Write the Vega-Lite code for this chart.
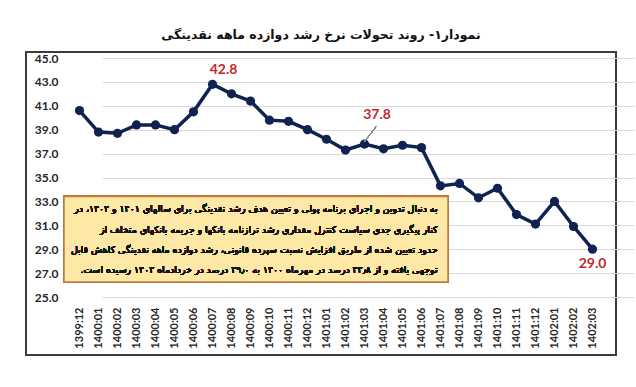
{
  "$schema": "https://vega.github.io/schema/vega-lite/v6.json",
  "autosize": "none",
  "width": 590,
  "height": 303,
  "padding": {"left": 26, "top": 52, "right": 20, "bottom": 32},
  "background": "white",
  "config": {
    "view": {"stroke": "#3c3c3c", "strokeWidth": 2},
    "axisX": {
      "labelAngle": -90,
      "domain": false,
      "ticks": false,
      "tickSize": 0,
      "labelPadding": 0,
      "offset": -48,
      "grid": false,
      "labelOverlap": false,
      "labelFont": "Lato",
      "labelFontSize": 11,
      "labelFontWeight": "bold",
      "labelColor": "#262626"
    },
    "axisY": {
      "domain": false,
      "ticks": false,
      "tickSize": 0,
      "labelPadding": 0,
      "offset": -32,
      "grid": true,
      "labelOverlap": false,
      "gridColor": "#d9d9d9",
      "gridWidth": 1,
      "labelFont": "Lato",
      "labelFontSize": 12,
      "labelFontWeight": "bold",
      "labelColor": "#262626"
    }
  },
  "title": {
    "text": "\u200fنمودار۱- روند تحولات نرخ رشد دوازده ماهه نقدینگی\u200f",
    "font": "DejaVu Sans",
    "fontSize": 12.5,
    "fontWeight": "bold",
    "color": "#111111",
    "anchor": "middle",
    "offset": 11
  },
  "data": {
    "values": [
      {"m": "1399:12", "v": 40.6},
      {"m": "1400:01", "v": 38.8},
      {"m": "1400:02", "v": 38.7},
      {"m": "1400:03", "v": 39.4},
      {"m": "1400:04", "v": 39.4},
      {"m": "1400:05", "v": 39.0},
      {"m": "1400:06", "v": 40.5},
      {"m": "1400:07", "v": 42.8},
      {"m": "1400:08", "v": 42.0},
      {"m": "1400:09", "v": 41.4},
      {"m": "1400:10", "v": 39.8},
      {"m": "1400:11", "v": 39.7},
      {"m": "1400:12", "v": 39.0},
      {"m": "1401:01", "v": 38.2},
      {"m": "1401:02", "v": 37.3},
      {"m": "1401:03", "v": 37.8},
      {"m": "1401:04", "v": 37.4},
      {"m": "1401:05", "v": 37.7},
      {"m": "1401:06", "v": 37.5},
      {"m": "1401:07", "v": 34.3},
      {"m": "1401:08", "v": 34.5},
      {"m": "1401:09", "v": 33.3},
      {"m": "1401:10", "v": 34.1},
      {"m": "1401:11", "v": 31.9},
      {"m": "1401:12", "v": 31.1},
      {"m": "1402:01", "v": 33.0},
      {"m": "1402:02", "v": 30.9},
      {"m": "1402:03", "v": 29.0}
    ]
  },
  "layer": [
    {
      "mark": {"type": "line", "color": "#0f2250", "strokeWidth": 3.5, "point": {"filled": true, "size": 85, "color": "#0f2250"}},
      "encoding": {
        "x": {
          "field": "m",
          "type": "ordinal",
          "sort": null,
          "scale": {"type": "point", "range": [44, 576], "padding": 0.5},
          "axis": {"title": null}
        },
        "y": {
          "field": "v",
          "type": "quantitative",
          "scale": {"domain": [25, 45], "range": [245, 6], "nice": false, "zero": false},
          "axis": {"title": null, "values": [25, 27, 29, 31, 33, 35, 37, 39, 41, 43, 45], "format": ".1f"}
        }
      }
    },
    {
      "mark": {"type": "rect", "fill": "#fde8a6", "stroke": "#c07a3e", "strokeWidth": 1.5, "xOffset": -15.5, "x2Offset": 7.5},
      "encoding": {
        "x": {"datum": "1399:12", "type": "ordinal", "axis": {"title": null}},
        "x2": {"datum": "1401:07"},
        "y": {"datum": 33.42, "axis": {"title": null, "values": [25, 27, 29, 31, 33, 35, 37, 39, 41, 43, 45], "format": ".1f"}},
        "y2": {"datum": 26.25}
      }
    },
    {
      "mark": {
        "type": "text",
        "align": "right",
        "baseline": "middle",
        "font": "DejaVu Sans",
        "fontSize": 9.4,
        "lineHeight": 20.3,
        "color": "#141414",
        "dx": -3
      },
      "encoding": {
        "x": {"datum": "1401:07", "type": "ordinal", "axis": {"title": null}},
        "y": {"datum": 32.33, "axis": {"title": null, "values": [25, 27, 29, 31, 33, 35, 37, 39, 41, 43, 45], "format": ".1f"}},
        "text": {"value": [
          "\u200fبه دنبال تدوین و اجرای برنامه پولی و تعیین هدف رشد نقدینگی برای سالهای ۱۴۰۱ و ۱۴۰۲، در\u200f",
          "\u200fکنار پیگیری جدی سیاست کنترل مقداری رشد ترازنامه بانکها و جریمه بانکهای متخلف از\u200f",
          "\u200fحدود تعیین شده از طریق افزایش نسبت سپرده قانونی، رشد دوازده ماهه نقدینگی کاهش قابل\u200f",
          "\u200fتوجهی یافته و از ۴۲٫۸ درصد در مهرماه ۱۴۰۰ به ۲۹٫۰ درصد در خردادماه ۱۴۰۲ رسیده است.\u200f"
        ]}
      }
    },
    {
      "mark": {"type": "rule", "color": "#8c8c8c", "strokeWidth": 1, "x2Offset": -7},
      "encoding": {
        "x": {"datum": "1401:03", "type": "ordinal", "axis": {"title": null}},
        "x2": {"datum": "1401:04"},
        "y": {"datum": 38.0, "axis": {"title": null, "values": [25, 27, 29, 31, 33, 35, 37, 39, 41, 43, 45], "format": ".1f"}},
        "y2": {"datum": 39.3}
      }
    },
    {
      "transform": [{"filter": "datum.m === '1400:07'"}],
      "mark": {"type": "text", "font": "Lato", "fontSize": 14, "fontWeight": "bold", "color": "#c0282e", "dx": 11, "dy": -14},
      "encoding": {
        "x": {"field": "m", "type": "ordinal", "axis": {"title": null}},
        "y": {"field": "v", "type": "quantitative", "axis": {"title": null, "values": [25, 27, 29, 31, 33, 35, 37, 39, 41, 43, 45], "format": ".1f"}},
        "text": {"field": "v", "type": "quantitative", "format": ".1f"}
      }
    },
    {
      "transform": [{"filter": "datum.m === '1401:03'"}],
      "mark": {"type": "text", "font": "Lato", "fontSize": 14, "fontWeight": "bold", "color": "#c0282e", "dx": 12.5, "dy": -29},
      "encoding": {
        "x": {"field": "m", "type": "ordinal", "axis": {"title": null}},
        "y": {"field": "v", "type": "quantitative", "axis": {"title": null, "values": [25, 27, 29, 31, 33, 35, 37, 39, 41, 43, 45], "format": ".1f"}},
        "text": {"field": "v", "type": "quantitative", "format": ".1f"}
      }
    },
    {
      "transform": [{"filter": "datum.m === '1402:03'"}],
      "mark": {"type": "text", "font": "Lato", "fontSize": 14, "fontWeight": "bold", "color": "#c0282e", "dx": 0, "dy": 15},
      "encoding": {
        "x": {"field": "m", "type": "ordinal", "axis": {"title": null}},
        "y": {"field": "v", "type": "quantitative", "axis": {"title": null, "values": [25, 27, 29, 31, 33, 35, 37, 39, 41, 43, 45], "format": ".1f"}},
        "text": {"field": "v", "type": "quantitative", "format": ".1f"}
      }
    }
  ]
}
